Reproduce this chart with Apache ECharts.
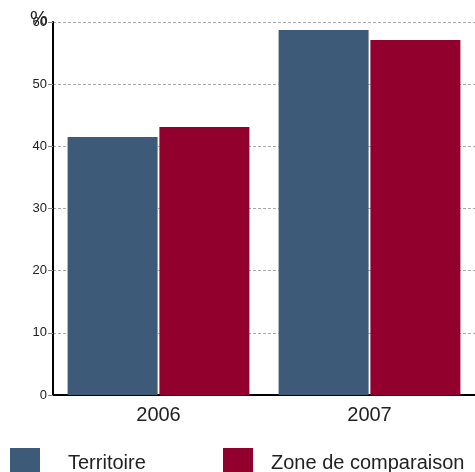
<!DOCTYPE html>
<html>
<head>
<meta charset="utf-8">
<script src="https://cdn.jsdelivr.net/npm/echarts@6/dist/echarts.min.js"></script>
<style>
  html, body { margin: 0; padding: 0; background: #fff; }
  #chart { width: 475px; height: 472px; }
</style>
</head>
<body>
<div id="chart"></div>
<script>
// data
var years = ['2006', '2007'];
var territoire = [41.5, 58.7];
var zoneComparaison = [43.1, 57.1];
var seriesNames = ['Territoire', 'Zone de comparaison'];
var unit = '%';

var chart = echarts.init(document.getElementById('chart'));
var font = 'Liberation Sans, Arial, sans-serif';

var option = {
    animation: false,
    textStyle: { fontFamily: font },
    // unit label sits over the top tick, like in the original
    title: {
        text: unit,
        left: 30, top: 9, padding: 0,
        textStyle: { fontSize: 20, fontWeight: 'normal', color: '#222', fontFamily: font }
    },
    grid: { left: 53, right: 0, top: 22, bottom: 77, outerBoundsMode: 'none' },
    legend: [
        {
            data: [seriesNames[0]],
            left: 10, top: 448, padding: 0,
            itemWidth: 30, itemHeight: 30,
            icon: 'rect',
            textStyle: { fontSize: 20, color: '#222', padding: [0, 0, 0, 23] }
        },
        {
            data: [seriesNames[1]],
            left: 223, top: 448, padding: 0,
            itemWidth: 30, itemHeight: 30,
            icon: 'rect',
            textStyle: { fontSize: 20, color: '#222', padding: [0, 0, 0, 13] }
        }
    ],
    xAxis: {
        type: 'category',
        data: years,
        axisLine: { lineStyle: { color: '#000', width: 2 } },
        axisTick: { show: false },
        axisLabel: { fontSize: 20, color: '#222', margin: 10 }
    },
    yAxis: {
        type: 'value',
        min: 0, max: 60, interval: 10,
        axisLine: { show: true, lineStyle: { color: '#000', width: 2 } },
        axisTick: { show: true, length: 5, lineStyle: { color: '#888' } },
        axisLabel: { fontSize: 13, color: '#222', margin: 6 },
        splitLine: { lineStyle: { color: '#aaa', type: [3, 2] } }
    },
    series: [
        {
            name: seriesNames[0],
            type: 'bar',
            data: territoire,
            barWidth: 90,
            barGap: '2%',
            itemStyle: { color: '#3d5b79' }
        },
        {
            name: seriesNames[1],
            type: 'bar',
            data: zoneComparaison,
            barWidth: 90,
            barGap: '2%',
            itemStyle: { color: '#92002d' }
        }
    ]
};

chart.setOption(option);
</script>
</body>
</html>
